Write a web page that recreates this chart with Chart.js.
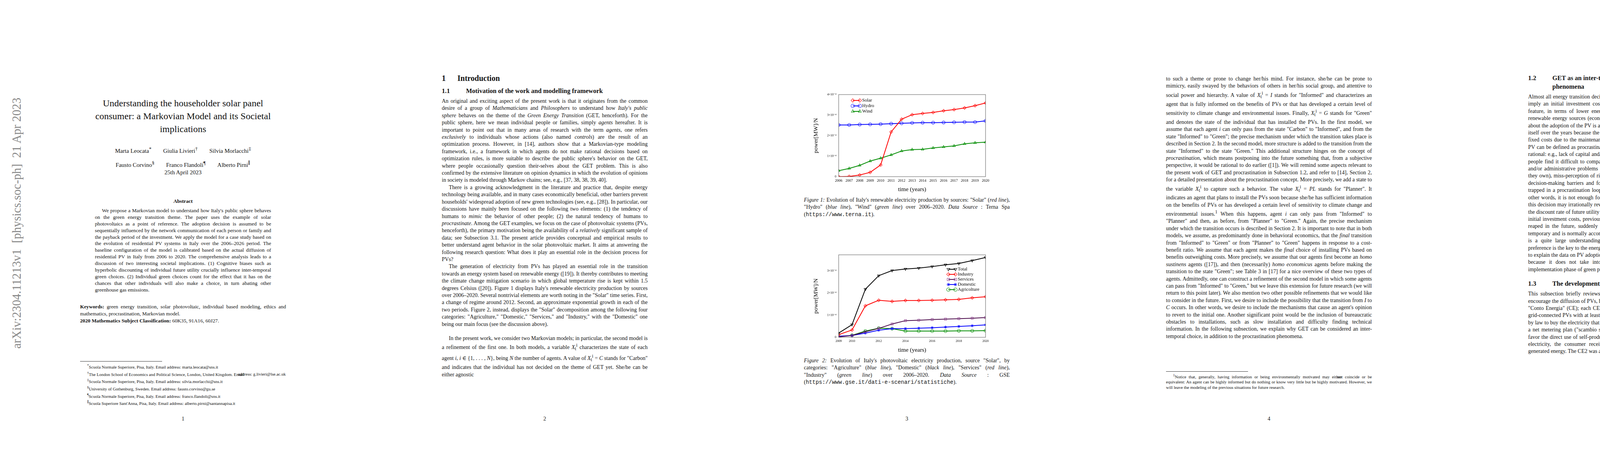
<!DOCTYPE html>
<html>
<head>
<meta charset="utf-8">
<script src="https://cdn.jsdelivr.net/npm/chart.js@4.4.0/dist/chart.umd.min.js"></script>
<style>
  body { margin:0; width:4635px; height:1200px; background:#fff; font-family:"Liberation Serif","DejaVu Serif",serif; color:#111; overflow:hidden; position:relative; }
  .col { position:absolute; width:527px; font-size:14px; line-height:18.4px; text-align:justify; hyphens:auto; }
  .col p { margin:0; text-indent:18px; }
  .col p.ni { text-indent:0; }
  h1 { font-size:20px; line-height:24px; margin:0 0 10px 0; font-weight:bold; }
  h2 { font-size:16.5px; line-height:22px; margin:0 0 6px 0; font-weight:bold; padding-left:62px; text-indent:-62px; text-align:left; }
  .num { display:inline-block; width:62px; text-indent:0; }
  .pn { position:absolute; width:527px; text-align:center; font-size:14px; top:1064px; }
  .fn { position:absolute; width:527px; font-size:11px; line-height:13.8px; text-align:justify; }
  .fn hr { width:210px; margin:0 0 3px 0; border:0; border-top:1px solid #333; }
  .fn div { text-indent:18px; }
  .stamp { position:absolute; left:26px; top:892px; transform-origin:left top; transform:rotate(-90deg); font-size:30px; color:#888; white-space:nowrap; }
  .cap { position:absolute; width:527px; font-size:14px; line-height:18.4px; text-align:justify; }
  canvas { position:absolute; }
</style>
</head>
<body lang="en">
<div class="stamp" id="stamp">arXiv:2304.11213v1&nbsp; [physics.soc-ph]&nbsp; 21 Apr 2023</div>

<!-- page 1 -->
<div class="col" style="left:205px; top:248px; text-align:center; font-size:24px; line-height:33px; padding:0 10px; box-sizing:border-box;">Understanding the householder solar panel<br>consumer: a Markovian Model and its Societal<br>implications</div>
<div class="col" style="left:205px; top:366px; font-size:15px; line-height:31px; text-align:center;">
Marta Leocata<sup>*</sup>&nbsp;&nbsp;&nbsp;&nbsp;&nbsp;&nbsp;&nbsp;&nbsp;Giulia Livieri<sup>†</sup>&nbsp;&nbsp;&nbsp;&nbsp;&nbsp;&nbsp;&nbsp;&nbsp;Silvia Morlacchi<sup>‡</sup><br>
Fausto Corvino<sup>§</sup>&nbsp;&nbsp;&nbsp;&nbsp;&nbsp;&nbsp;&nbsp;&nbsp;Franco Flandoli<sup>¶</sup>&nbsp;&nbsp;&nbsp;&nbsp;&nbsp;&nbsp;&nbsp;&nbsp;Alberto Pirni<sup>∥</sup></div>
<div class="col" style="left:205px; top:432px; font-size:15px; text-align:center;">25th April 2023</div>
<div class="col" style="left:243px; width:451px; top:507px; font-size:13.2px; line-height:16.9px;">
<div style="text-align:center; font-weight:bold; margin-bottom:7px;">Abstract</div>
<p>We propose a Markovian model to understand how Italy's public sphere behaves on the green energy transition theme. The paper uses the example of solar photovoltaics as a point of reference. The adoption decision is assumed to be sequentially influenced by the network communication of each person or family and the payback period of the investment. We apply the model for a case study based on the evolution of residential PV systems in Italy over the 2006–2026 period. The baseline configuration of the model is calibrated based on the actual diffusion of residential PV in Italy from 2006 to 2020. The comprehensive analysis leads to a discussion of two interesting societal implications. (1) Cognitive biases such as hyperbolic discounting of individual future utility crucially influence inter-temporal green choices. (2) Individual green choices count for the effect that it has on the chances that other individuals will also make a choice, in turn abating other greenhouse gas emissions.</p>
</div>
<div class="col" style="left:205px; top:776px; font-size:13.2px; line-height:18px;">
<p class="ni"><b>Keywords:</b> green energy transition, solar photovoltaic, individual based modeling, ethics and mathematics, procrastination, Markovian model.</p>
<p class="ni"><b>2020 Mathematics Subject Classification:</b> 60K35, 91A16, 60J27.</p>
</div>
<div class="fn" style="left:205px; top:924px; line-height:15px;"><hr>
<div><sup>*</sup>Scuola Normale Superiore, Pisa, Italy. Email address: marta.leocata@sns.it</div>
<div><sup>†</sup>The London School of Economics and Political Science, London, United Kingdom. Email <span style="margin-left:-18px">address: g.livieri@lse.ac.uk</span></div>
<div><sup>‡</sup>Scuola Normale Superiore, Pisa, Italy. Email address: silvia.morlacchi@sns.it</div>
<div><sup>§</sup>University of Gothenburg, Sweden. Email address: fausto.corvino@gu.se</div>
<div><sup>¶</sup>Scuola Normale Superiore, Pisa, Italy. Email address: franco.flandoli@sns.it</div>
<div><sup>∥</sup>Scuola Superiore Sant'Anna, Pisa, Italy. Email address: alberto.pirni@santannapisa.it</div></div>
<div class="pn" style="left:205px;">1</div>

<!-- page 2 -->
<div class="col" style="left:1131px; top:188px;">
<h1><span class="num" style="width:40px">1</span>Introduction</h1>
<h2><span class="num">1.1</span>Motivation of the work and modelling framework</h2>
<p class="ni">An original and exciting aspect of the present work is that it originates from the common desire of a group of <i>Mathematicians</i> and <i>Philosophers</i> to understand how <i>Italy's public sphere</i> behaves on the theme of the <i>Green Energy Transition</i> (GET, henceforth). For the public sphere, here we mean individual people or families, simply <i>agents</i> hereafter. It is important to point out that in many areas of research with the term <i>agents</i>, one refers <i>exclusively</i> to individuals whose actions (also named <i>controls</i>) are the result of an optimization process. However, in [14], authors show that a Markovian-type modeling framework, i.e., a framework in which agents do not make rational decisions based on optimization rules, is more suitable to describe the public sphere's behavior on the GET, where people occasionally question their-selves about the GET problem. This is also confirmed by the extensive literature on opinion dynamics in which the evolution of opinions in society is modeled through Markov chains; see, e.g., [37, 38, 38, 39, 40].</p>
<p>There is a growing acknowledgment in the literature and practice that, despite energy technology being available, and in many cases economically beneficial, other barriers prevent households' widespread adoption of new green technologies (see, e.g., [28]). In particular, our discussions have mainly been focused on the following two elements: (1) the tendency of humans to <i>mimic</i> the behavior of other people; (2) the natural tendency of humans to <i>procrastinate</i>. Among the GET examples, we focus on the case of photovoltaic systems (PVs, henceforth), the primary motivation being the availability of a <i>relatively</i> significant sample of data; see Subsection 3.1. The present article provides conceptual and empirical results to better understand agent behavior in the solar photovoltaic market. It aims at answering the following research question: What does it play an essential role in the decision process for PVs?</p>
<p>The generation of electricity from PVs has played an essential role in the transition towards an energy system based on renewable energy ([19]). It thereby contributes to meeting the climate change mitigation scenario in which global temperature rise is kept within 1.5 degrees Celsius ([20]). Figure 1 displays Italy's renewable electricity production by sources over 2006–2020. Several nontrivial elements are worth noting in the "Solar" time series. First, a change of regime around 2012. Second, an approximate exponential growth in each of the two periods. Figure 2, instead, displays the "Solar" decomposition among the following four categories: "Agriculture," "Domestic," "Services," and "Industry," with the "Domestic" one being our main focus (see the discussion above).</p>
<p style="margin-top:18px;">In the present work, we consider two Markovian models; in particular, the second model is a refinement of the first one. In both models, a variable <i>X</i><sub>t</sub><sup>i</sup> characterizes the state of each agent <i>i</i>, <i>i</i> ∈ {1, . . . , <i>N</i>}, being <i>N</i> the number of agents. A value of <i>X</i><sub>t</sub><sup>i</sup> = <i>C</i> stands for "Carbon" and indicates that the individual has not decided on the theme of GET yet. She/he can be either agnostic</p>
</div>
<div class="pn" style="left:1131px;">2</div>

<!-- page 3 -->
<canvas id="chartSolar" style="left:2080px; top:232px; width:457px; height:262px;"></canvas>
<div class="cap" style="left:2058px; top:503px;"><i>Figure 1:</i> Evolution of Italy's renewable electricity production by sources: "Solar" (<i>red line</i>), "Hydro" (<i>blue line</i>), "Wind" (<i>green line</i>) over 2006–2020. <i>Data Source</i> : Terna Spa (<span style="font-family:'Liberation Mono',monospace;">https://www.terna.it</span>).</div>
<canvas id="chartSector" style="left:2080px; top:642px; width:457px; height:263px;"></canvas>
<div class="cap" style="left:2058px; top:914px;"><i>Figure 2:</i> Evolution of Italy's photovoltaic electricity production, source "Solar", by categories: "Agriculture" (<i>blue line</i>), "Domestic" (<i>black line</i>), "Services" (<i>red line</i>), "Industry" (<i>green line</i>) over 2006–2020. <i>Data Source</i> : GSE (<span style="font-family:'Liberation Mono',monospace;">https://www.gse.it/dati-e-scenari/statistiche</span>).</div>
<div class="pn" style="left:2058px;">3</div>

<!-- page 4 -->
<div class="col" style="left:2985px; top:193px;">
<p class="ni">to such a theme or prone to change her/his mind. For instance, she/he can be prone to mimicry, easily swayed by the behaviors of others in her/his social group, and attentive to social power and hierarchy. A value of <i>X</i><sub>t</sub><sup>i</sup> = <i>I</i> stands for "Informed" and characterizes an agent that is fully informed on the benefits of PVs or that has developed a certain level of sensitivity to climate change and environmental issues. Finally, <i>X</i><sub>t</sub><sup>i</sup> = <i>G</i> stands for "Green" and denotes the state of the individual that has installed the PVs. In the first model, we assume that each agent <i>i</i> can only pass from the state "Carbon" to "Informed", and from the state "Informed" to "Green"; the precise mechanism under which the transition takes place is described in Section 2. In the second model, more structure is added to the transition from the state "Informed" to the state "Green." This additional structure hinges on the concept of <i>procrastination</i>, which means postponing into the future something that, from a subjective perspective, it would be rational to do earlier ([1]). We will remind some aspects relevant to the present work of GET and procrastination in Subsection 1.2, and refer to [14], Section 2, for a detailed presentation about the procrastination concept. More precisely, we add a state to the variable <i>X</i><sub>t</sub><sup>i</sup> to capture such a behavior. The value <i>X</i><sub>t</sub><sup>i</sup> = <i>PL</i> stands for "Planner". It indicates an agent that plans to install the PVs soon because she/he has sufficient information on the benefits of PVs or has developed a certain level of sensitivity to climate change and environmental issues.<sup>1</sup> When this happens, agent <i>i</i> can only pass from "Informed" to "Planner" and then, as before, from "Planner" to "Green." Again, the precise mechanism under which the transition occurs is described in Section 2. It is important to note that in both models, we assume, as predominantly done in behavioral economics, that the <i>final</i> transition from "Informed" to "Green" or from "Planner" to "Green" happens in response to a cost-benefit ratio. We assume that each agent makes the <i>final</i> choice of installing PVs based on benefits outweighing costs. More precisely, we assume that our agents first become an <i>homo sustinens</i> agents ([17]), and then (necessarily) <i>homo economicus</i> agents before making the transition to the state "Green"; see Table 3 in [17] for a nice overview of these two types of agents. Admittedly, one can construct a refinement of the second model in which some agents can pass from "Informed" to "Green," but we leave this extension for future research (we will return to this point later). We also mention two other possible refinements that we would like to consider in the future. First, we desire to include the possibility that the transition from <i>I</i> to <i>C</i> occurs. In other words, we desire to include the mechanisms that cause an agent's opinion to revert to the initial one. Another significant point would be the inclusion of bureaucratic obstacles to installations, such as slow installation and difficulty finding technical information. In the following subsection, we explain why GET can be considered an inter-temporal choice, in addition to the procrastination phenomena.</p>
</div>
<div class="fn" style="left:2985px; top:950px;"><hr>
<div><sup>1</sup>Notice that, generally, having information or being environmentally motivated may either <span style="margin-left:-18px">not coincide or be equivalent: An agent can be highly informed but do nothing or know very little but be highly motivated. However, we will leave the modeling of the previous situations for future research.</span></div></div>
<div class="pn" style="left:2985px;">4</div>

<!-- page 5 -->
<div class="col" style="left:3912px; top:189px;">
<h2><span class="num">1.2</span>GET as an inter-temporal choice and the procrastination phenomena</h2>
<p class="ni">Almost all energy transition decisions have an inter-temporal structure, in the sense that they imply an initial investment cost, both economic and bureaucratic, to reap benefits in the feature, in terms of lower energy consumption, through energy efficiency or the use of renewable energy sources (economically cheaper than fossil fuels). In particular, the choice about the adoption of the PV is a clear inter-temporal choice. Usually, the investment pays for itself over the years because the electricity produced with the PV has no variable costs, only fixed costs due to the maintenance of the facility. Not all individuals who have not adopted PV can be defined as procrastinators. Several factors may, in fact, explain the non-choice as rational: e.g., lack of capital and/or difficulties in accessing credit, epistemic obstacles (many people find it difficult to compare the different options available on the market), relational and/or administrative problems (not everyone lives in a semi-detached house, or in houses they own), miss-perception of risk, and so on. However, all those who have overcome these decision-making barriers and formed a clear preference for the PV purchase may end up trapped in a procrastination loop due to the inter-temporal structure of the green choice. In other words, it is not enough for an individual to develop a preference for a solar panel, as this decision may irrationally reverse itself as the time of purchase approaches. That is, when the discount rate of future utility changes from exponential to hyperbolic, and the value of the initial investment costs, previously judged lower than the value of the energy benefits to be reaped in the future, suddenly becomes higher. This reversal of preferences is obviously temporary and is normally accompanied by remorse, as in all cases of procrastination. There is a quite large understanding/acknowledgment that inducing people to form a green preference is the key to the energy transition (see [26]). We claim that this is insufficient, both to explain the data on PV adoption and to induce increases in green technology adoption rates because it does not take into account the traps of irrationality that accompany the implementation phase of green preferences.</p>
<h2 style="margin-top:16px;"><span class="num">1.3</span>The development of the PVs in Italy (see [14], Section 2)</h2>
<p class="ni">This subsection briefly reviews the initiatives implemented by the Italian government to encourage the diffusion of PVs, henceforth) from 2005 until today. These initiatives are called "Conto Energia" (CE); each CE guarantees contracts with fixed conditions for 20 years for grid-connected PVs with at least 1kW of peak power. Local electricity providers are required by law to buy the electricity that is generated by PVs. The first CE started in 2005, and it was a net metering plan ("scambio sul posto") designed for small PVs. The plan was meant to favor the direct use of self-produced electricity. Besides payment for each produced kWh of electricity, the consumer received additional rewards for directly consuming the self-generated energy. The CE2 was available to all</p>
</div>
<div class="pn" style="left:3912px;">5</div>

<script>
// ---------------- data ----------------
const solarYears = [2006, 2007, 2008, 2009, 2010, 2011, 2012, 2013, 2014, 2015, 2016, 2017, 2018, 2019, 2020];
const solarValues = [0.00, 0.01, 0.08, 0.21, 0.57, 2.18, 2.80, 3.02, 3.08, 3.13, 3.21, 3.27, 3.35, 3.46, 3.59];
const hydroValues = [2.52, 2.52, 2.54, 2.55, 2.56, 2.58, 2.60, 2.62, 2.63, 2.63, 2.64, 2.65, 2.66, 2.66, 2.72];
const windValues = [0.29, 0.40, 0.55, 0.76, 0.90, 1.06, 1.25, 1.32, 1.33, 1.40, 1.45, 1.50, 1.60, 1.65, 1.68];

const sectorYears = [2009, 2010, 2011, 2012, 2013, 2014, 2015, 2016, 2017, 2018, 2019, 2020];
const totalValues = [0.19, 0.57, 2.17, 2.78, 3.01, 3.08, 3.12, 3.19, 3.27, 3.33, 3.46, 3.60];
const industryValues = [0.12, 0.33, 1.42, 1.67, 1.62, 1.66, 1.66, 1.67, 1.69, 1.71, 1.78, 1.83];
const servicesValues = [0.02, 0.08, 0.25, 0.40, 0.60, 0.75, 0.77, 0.80, 0.82, 0.84, 0.86, 0.89];
const domesticValues = [0.05, 0.08, 0.19, 0.32, 0.39, 0.39, 0.41, 0.43, 0.46, 0.49, 0.52, 0.56];
const agriValues = [0.02, 0.09, 0.28, 0.41, 0.39, 0.28, 0.28, 0.28, 0.28, 0.29, 0.29, 0.30];

const yTickLabels = ['0', '1×10⁻⁴', '2×10⁻⁴', '3×10⁻⁴', '4×10⁻⁴'];

const serif = '"Liberation Serif", "DejaVu Serif", serif';

// shrink the arXiv stamp so it spans the same height as in the paper
const stamp = document.getElementById('stamp');
stamp.style.fontSize = (30 * 643 / stamp.offsetWidth) + 'px';

function pts(xs, ys) {
  return xs.map((x, i) => ({ x: x, y: ys[i] * 1e-4 }));
}

function mkSet(label, xs, ys, color, style, rot, line) {
  return {
    label: label,
    data: pts(xs, ys),
    borderColor: line || color,
    pointBorderColor: color,
    pointBackgroundColor: 'rgba(255,255,255,0)',
    pointStyle: style,
    rotation: rot || 0,
    pointRadius: 4,
    pointBorderWidth: 1,
    borderWidth: 2
  };
}

// legend drawn inside the plot like in xmgrace
function insideLegend(px, py, gap) {
  return {
    id: 'insideLegend',
    afterDraw(chart) {
      const ctx = chart.ctx;
      const a = chart.chartArea;
      ctx.save();
      ctx.font = '12px ' + serif;
      ctx.textBaseline = 'middle';
      chart.data.datasets.forEach((ds, i) => {
        const x = a.left + px * (a.right - a.left);
        const y = a.top + py + i * gap;
        ctx.strokeStyle = ds.borderColor;
        ctx.lineWidth = 2;
        ctx.beginPath(); ctx.moveTo(x, y); ctx.lineTo(x + 18, y); ctx.stroke();
        ctx.lineWidth = 1;
        ctx.strokeStyle = ds.pointBorderColor;
        ctx.fillStyle = 'rgba(255,255,255,0)';
        [x, x + 18].forEach(cx => {
          Chart.helpers.drawPoint(ctx, { pointStyle: ds.pointStyle, rotation: ds.rotation, radius: 4.5, borderWidth: 1 }, cx, y);
        });
        ctx.fillStyle = '#000';
        ctx.fillText(ds.label, x + 24, y);
      });
      ctx.restore();
    }
  };
}

// box around the plot area
const frame = {
  id: 'frame',
  afterDraw(chart) {
    const a = chart.chartArea, ctx = chart.ctx;
    ctx.save();
    ctx.strokeStyle = '#555';
    ctx.lineWidth = 1;
    ctx.strokeRect(a.left, a.top, a.right - a.left, a.bottom - a.top);
    ctx.restore();
  }
};

function axes(xmin, xmax, xstep, ymax, xfont) {
  return {
    x: {
      type: 'linear', min: xmin, max: xmax,
      afterFit: s => { s.height = 42; },
      grid: { display: false, tickLength: 4 },
      border: { color: '#555' },
      ticks: { stepSize: xstep, color: '#000', font: { family: serif, size: xfont }, padding: 1, maxRotation: 0, autoSkip: false, callback: v => String(v) },
      title: { display: true, text: 'time (years)', color: '#000', font: { family: serif, size: 15 }, padding: 0 }
    },
    y: {
      min: 0, max: ymax,
      afterFit: s => { s.width = 67; },
      grid: { display: false, tickLength: 4 },
      border: { color: '#555' },
      afterBuildTicks: s => { s.ticks = [0, 1e-4, 2e-4, 3e-4].concat(ymax >= 4e-4 ? [4e-4] : []).map(v => ({ value: v })); },
      ticks: { color: '#000', font: { family: serif, size: 8 }, padding: 2, callback: (v) => yTickLabels[Math.round(v * 1e4)] },
      title: { display: true, text: 'power[MW]/N', color: '#000', font: { family: serif, size: 15 }, padding: 0 }
    }
  };
}

new Chart(document.getElementById('chartSolar'), {
  type: 'line',
  data: {
    datasets: [
      mkSet('Solar', solarYears, solarValues, '#ff0000', 'rectRot'),
      mkSet('Hydro', solarYears, hydroValues, '#0000ff', 'circle'),
      mkSet('Wind', solarYears, windValues, '#008c00', 'triangle')
    ]
  },
  options: {
    responsive: false, animation: false, devicePixelRatio: 2,
    layout: { padding: { top: 10, right: 14 } },
    plugins: { legend: { display: false }, tooltip: { enabled: false } },
    scales: axes(2006, 2020, 1, 4e-4, 9.5)
  },
  plugins: [frame, insideLegend(0.096, 15, 14)]
});

new Chart(document.getElementById('chartSector'), {
  type: 'line',
  data: {
    datasets: [
      mkSet('Total', sectorYears, totalValues, '#000000', 'triangle', 180),
      mkSet('Industry', sectorYears, industryValues, '#ff0000', 'rectRot'),
      mkSet('Services', sectorYears, servicesValues, '#8b3a8b', 'rect', 0, '#4b0a4b'),
      mkSet('Domestic', sectorYears, domesticValues, '#0000ff', 'star'),
      mkSet('Agricolture', sectorYears, agriValues, '#008c00', 'circle')
    ]
  },
  options: {
    responsive: false, animation: false, devicePixelRatio: 2,
    layout: { padding: { top: 10, right: 14 } },
    plugins: { legend: { display: false }, tooltip: { enabled: false } },
    scales: axes(2009, 2020, 2, 3.72e-4, 8)
  },
  plugins: [frame, insideLegend(0.747, 37, 13)]
});
</script>
</body>
</html>
